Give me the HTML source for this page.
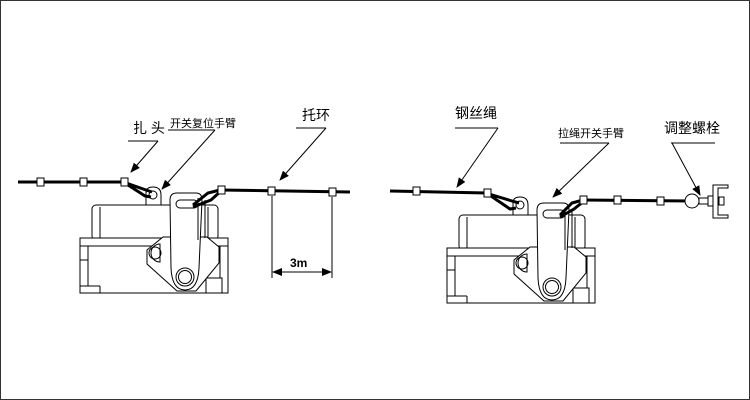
<!DOCTYPE html>
<html><head><meta charset="utf-8"><style>
html,body{margin:0;padding:0;background:#fff}
.box{width:748px;height:398px;border:1px solid #333;position:relative;overflow:hidden}
svg{position:absolute;left:-1px;top:-1px}
text{font-family:"Liberation Sans","Noto Sans CJK SC",sans-serif;fill:#000}
</style></head><body><div class="box">
<svg width="750" height="400" viewBox="0 0 750 400">
<defs>
<marker id="ar" markerWidth="10" markerHeight="8" refX="9" refY="4" orient="auto" markerUnits="userSpaceOnUse"><path d="M0,0 L10,4 L0,8 Z" fill="#000"/></marker>
<g id="dev" fill="#fff" stroke="#000" stroke-width="1">
 <!-- tab -->
 <path d="M146,205 L146,193 Q146,187 153,187 Q161,187 161,195 L161,205 Z"/>
 <circle cx="153" cy="195" r="4"/>
 <!-- top box -->
 <rect x="92" y="205" width="126" height="35" rx="4"/>
 <line x1="100" y1="207" x2="100" y2="240"/>
 <line x1="208" y1="207" x2="208" y2="240"/>
 <!-- band -->
 <rect x="80" y="238" width="148" height="8"/>
 <!-- lower body -->
 <rect x="80" y="246" width="148" height="47"/>
 <line x1="88" y1="246" x2="88" y2="286"/>
 <line x1="80" y1="286" x2="100" y2="286"/>
 <line x1="100" y1="286" x2="100" y2="293"/>
 <line x1="80" y1="260" x2="88" y2="260"/>
 <line x1="220" y1="246" x2="220" y2="278"/>
 <rect x="206" y="278" width="16" height="15"/>
 <!-- diamond -->
 <polygon points="163,237 147,250 147,264 177,291 196,291 219,263 219,247 207,237"/>
 <path d="M160,244 A9,9 0 0 0 160,262 Z"/>
 <circle cx="155" cy="253" r="6" fill="none"/>
 <!-- arm -->
 <path d="M170,200 Q170,193 177,193 L196,193 Q202,193 202,200 L199,268 Q198,290 185,290 Q172,290 171,268 Z"/>
 <rect x="176" y="200" width="22" height="8" rx="4"/>
 <circle cx="185" cy="277" r="9"/>
 <circle cx="185" cy="277" r="6.5" fill="none"/>
 <line x1="198" y1="198" x2="198" y2="240" />
 <line x1="205" y1="200" x2="205" y2="238"/>
</g>
</defs>

<!-- LEFT -->
<use href="#dev"/>
<g fill="none" stroke="#000" stroke-width="3">
 <line x1="18" y1="182" x2="125" y2="182"/>
 <path d="M125,183 L145,196 L151,197 M126,183 L146,190 L152,192"/>
 <line x1="221" y1="190" x2="350" y2="192"/>
 <path d="M220,190 L208,193 L193,205 M221,191 L211,200 L193,207"/>
</g>
<g fill="#fff" stroke="#000">
 <rect x="37" y="178" width="7" height="8"/>
 <rect x="80" y="178" width="7" height="8"/>
 <rect x="121" y="178" width="7" height="8"/>
 <rect x="218" y="186" width="7" height="8"/>
 <rect x="268" y="187" width="7" height="8"/>
 <rect x="329" y="188" width="7" height="8"/>
</g>
<g stroke="#000" stroke-width="1" fill="none">
 <line x1="272" y1="196" x2="272" y2="278"/>
 <line x1="332" y1="197" x2="332" y2="278"/>
 <line x1="273" y1="272" x2="331" y2="272" marker-end="url(#ar)"/>
 <line x1="331" y1="272" x2="273" y2="272" marker-end="url(#ar)"/>
 <line x1="128" y1="141" x2="158" y2="141"/>
 <line x1="158" y1="141" x2="131" y2="172" marker-end="url(#ar)"/>
 <line x1="168" y1="130" x2="215" y2="130"/>
 <line x1="215" y1="130" x2="162" y2="189" marker-end="url(#ar)"/>
 <line x1="296" y1="128" x2="326" y2="128"/>
 <line x1="326" y1="128" x2="280" y2="180" marker-end="url(#ar)"/>
</g>
<text x="290" y="267" font-size="12" font-weight="bold">3m</text>
<text x="133" y="133" font-size="14">扎 头</text>
<text x="170" y="127" font-size="11">开关复位手臂</text>
<text x="302" y="120" font-size="14">托环</text>

<!-- RIGHT -->
<use href="#dev" transform="translate(367,10)"/>
<g fill="none" stroke="#000" stroke-width="3">
 <line x1="390" y1="191" x2="487" y2="193"/>
 <path d="M488,194 L510,209 L516,208 M489,194 L512,201 L519,203"/>
 <line x1="583" y1="200" x2="690" y2="201"/>
 <path d="M583,200 L572,203 L560,215 M584,201 L574,209 L560,217"/>
</g>
<g fill="#fff" stroke="#000">
 <rect x="413" y="187" width="7" height="8"/>
 <rect x="484" y="189" width="7" height="8"/>
 <rect x="580" y="196" width="7" height="8"/>
 <rect x="614" y="196" width="7" height="8"/>
 <rect x="657" y="197" width="7" height="8"/>
 <circle cx="692" cy="201" r="7"/>
 <rect x="699" y="198" width="11" height="6"/>
 <rect x="708" y="196" width="5" height="10"/>
 <path d="M713,185 L728,185 L728,188 L718,188 L718,215 L728,215 L728,218 L713,218 Z"/>
 <rect x="719" y="197" width="5" height="8"/>
</g>
<g stroke="#000" stroke-width="1" fill="none">
 <line x1="455" y1="128" x2="498" y2="128"/>
 <line x1="498" y1="128" x2="457" y2="187" marker-end="url(#ar)"/>
 <line x1="560" y1="143" x2="609" y2="143"/>
 <line x1="609" y1="143" x2="553" y2="197" marker-end="url(#ar)"/>
 <line x1="671" y1="143" x2="715" y2="143"/>
 <line x1="672" y1="143" x2="700" y2="195" marker-end="url(#ar)"/>
</g>
<text x="455" y="118" font-size="14">钢丝绳</text>
<text x="558" y="137" font-size="11">拉绳开关手臂</text>
<text x="664" y="133" font-size="14">调整螺栓</text>
</svg>
</div></body></html>
